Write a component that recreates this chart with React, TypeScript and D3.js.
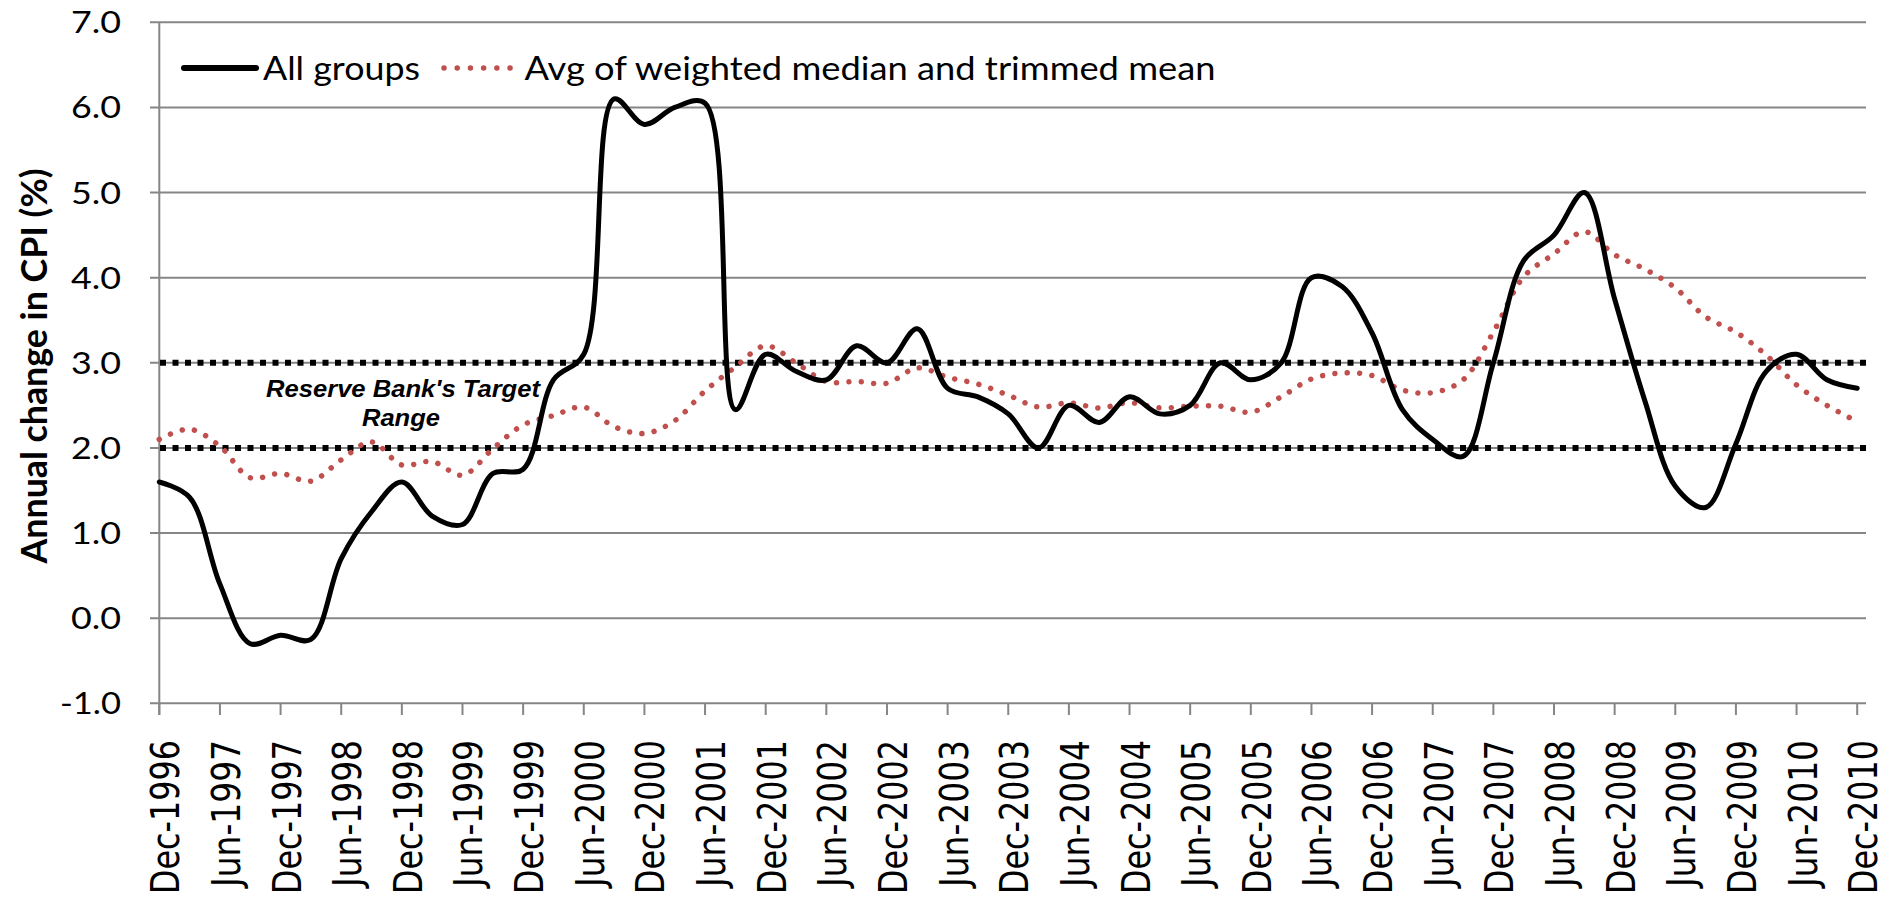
import React from "react";
import * as d3 from "d3";

const quarters = [
  "Dec-1996","Mar-1997","Jun-1997","Sep-1997","Dec-1997","Mar-1998","Jun-1998","Sep-1998",
  "Dec-1998","Mar-1999","Jun-1999","Sep-1999","Dec-1999","Mar-2000","Jun-2000","Sep-2000",
  "Dec-2000","Mar-2001","Jun-2001","Sep-2001","Dec-2001","Mar-2002","Jun-2002","Sep-2002",
  "Dec-2002","Mar-2003","Jun-2003","Sep-2003","Dec-2003","Mar-2004","Jun-2004","Sep-2004",
  "Dec-2004","Mar-2005","Jun-2005","Sep-2005","Dec-2005","Mar-2006","Jun-2006","Sep-2006",
  "Dec-2006","Mar-2007","Jun-2007","Sep-2007","Dec-2007","Mar-2008","Jun-2008","Sep-2008",
  "Dec-2008","Mar-2009","Jun-2009","Sep-2009","Dec-2009","Mar-2010","Jun-2010","Sep-2010",
  "Dec-2010",
];

const allGroups = [
  1.6, 1.42, 0.4, -0.3, -0.2, -0.25, 0.7, 1.25,
  1.6, 1.2, 1.1, 1.7, 1.75, 2.8, 3.1, 6.1,
  5.8, 6.0, 6.05, 2.45, 3.1, 2.9, 2.8, 3.2,
  3.0, 3.4, 2.7, 2.6, 2.4, 2.0, 2.5, 2.3,
  2.6, 2.4, 2.5, 3.0, 2.8, 3.0, 4.0, 3.9,
  3.35, 2.45, 2.1, 1.9, 3.0, 4.2, 4.5, 5.0,
  3.75, 2.55, 1.55, 1.3, 2.05, 2.9, 3.1, 2.8,
  2.7,
];

const underlying = [
  2.1, 2.22, 2.02, 1.65, 1.7, 1.61, 1.86, 2.07,
  1.8, 1.84, 1.68, 1.99, 2.27, 2.38, 2.48, 2.25,
  2.17, 2.32, 2.67, 2.95, 3.2, 3.0, 2.78, 2.78,
  2.76, 2.94, 2.83, 2.75, 2.62, 2.48, 2.53, 2.47,
  2.53, 2.47, 2.49, 2.49, 2.42, 2.6, 2.81, 2.88,
  2.85, 2.68, 2.65, 2.8, 3.36, 4.01, 4.28, 4.54,
  4.27, 4.1, 3.88, 3.54, 3.36, 3.09, 2.74, 2.5,
  2.31,
];

const yTicks = [-1, 0, 1, 2, 3, 4, 5, 6, 7];
const targetBand = [2, 3];
const seriesNames = ["All groups", "Avg of weighted median and trimmed mean"];
const yTitle = "Annual change in CPI (%)";
const noteLines = ["Reserve Bank's Target", "Range"];

const W = 1893;
const H = 897;
const X0 = 159.3;
const X1 = 1857.2;
const XR = 1866;
const GRID = "#868686";
const RED = "#C0504D";
const CAL = "Lato, 'Open Sans', sans-serif";

export default function App() {
  const x = d3.scalePoint<string>().domain(quarters).range([X0, X1]);
  const y = d3.scaleLinear().domain([-1, 7]).range([703.3, 22.3]);

  const line = d3
    .line<number>()
    .x((_, i) => x(quarters[i]) as number)
    .y((d) => y(d))
    .curve(d3.curveCatmullRom.alpha(0.5));

  const labelQuarters = quarters.filter((_, i) => i % 2 === 0);

  return (
    <svg
      width={W}
      height={H}
      viewBox={`0 0 ${W} ${H}`}
      style={{ position: "absolute", left: 0, top: 0, background: "#fff" }}
    >
      <rect x={0} y={0} width={W} height={H} fill="#fff" />

      {yTicks.map((v) => (
        <line key={"g" + v} x1={150} x2={XR} y1={y(v)} y2={y(v)} stroke={GRID} strokeWidth={2} />
      ))}
      <line x1={X0} x2={X0} y1={y(7)} y2={715} stroke={GRID} strokeWidth={2} />
      {labelQuarters.map((q) => (
        <line key={"t" + q} x1={x(q)} x2={x(q)} y1={y(-1)} y2={715} stroke={GRID} strokeWidth={2} />
      ))}

      {yTicks.map((v) => (
        <text
          key={"yl" + v}
          x={121}
          y={y(v) + 11}
          textAnchor="end"
          fontFamily={CAL}
          fontSize={31}
          textLength={v < 0 ? 61 : 50}
          lengthAdjust="spacingAndGlyphs"
          fill="#000"
        >
          {v.toFixed(1)}
        </text>
      ))}

      {labelQuarters.map((q) => {
        const len = q.startsWith("Jun") ? 147 : 154;
        return (
          <text
            key={"xl" + q}
            transform={`translate(${x(q)},${740 + len}) rotate(-90)`}
            x={0}
            y={20}
            textAnchor="start"
            fontFamily="DejaVu Sans, Verdana, sans-serif"
            fontSize={39}
            textLength={len}
            lengthAdjust="spacingAndGlyphs"
            fill="#000"
          >
            {q}
          </text>
        );
      })}

      <text
        transform="translate(47,366) rotate(-90)"
        textAnchor="middle"
        fontFamily={CAL}
        fontWeight="bold"
        fontSize={37}
        textLength={395}
        lengthAdjust="spacingAndGlyphs"
        fill="#000"
      >
        {yTitle}
      </text>

      {targetBand.map((v) => (
        <line
          key={"tb" + v}
          x1={160}
          x2={XR}
          y1={y(v)}
          y2={y(v)}
          stroke="#000"
          strokeWidth={6}
          strokeDasharray="6 6.5"
        />
      ))}

      <text
        x={403}
        y={397}
        textAnchor="middle"
        fontFamily="'Liberation Sans', Arial, sans-serif"
        fontWeight="bold"
        fontStyle="italic"
        fontSize={24.5}
        textLength={274}
        lengthAdjust="spacingAndGlyphs"
        fill="#000"
      >
        {noteLines[0]}
      </text>
      <text
        x={401}
        y={426}
        textAnchor="middle"
        fontFamily="'Liberation Sans', Arial, sans-serif"
        fontWeight="bold"
        fontStyle="italic"
        fontSize={24.5}
        textLength={78}
        lengthAdjust="spacingAndGlyphs"
        fill="#000"
      >
        {noteLines[1]}
      </text>

      <path
        d={line(underlying) || ""}
        fill="none"
        stroke={RED}
        strokeWidth={5.5}
        strokeLinecap="round"
        strokeDasharray="0.01 12.4"
      />
      <path
        d={line(allGroups) || ""}
        fill="none"
        stroke="#000"
        strokeWidth={5}
        strokeLinecap="round"
        strokeLinejoin="round"
      />

      <line x1={184} x2={256} y1={68} y2={68} stroke="#000" strokeWidth={6} strokeLinecap="round" />
      <text
        x={263}
        y={80}
        fontFamily={CAL}
        fontSize={33}
        textLength={157}
        lengthAdjust="spacingAndGlyphs"
        fill="#000"
      >
        {seriesNames[0]}
      </text>
      <line
        x1={444}
        x2={512}
        y1={68}
        y2={68}
        stroke={RED}
        strokeWidth={5.5}
        strokeLinecap="round"
        strokeDasharray="0.01 13.2"
      />
      <text
        x={524.5}
        y={80}
        fontFamily={CAL}
        fontSize={33}
        textLength={691}
        lengthAdjust="spacingAndGlyphs"
        fill="#000"
      >
        {seriesNames[1]}
      </text>
    </svg>
  );
}
